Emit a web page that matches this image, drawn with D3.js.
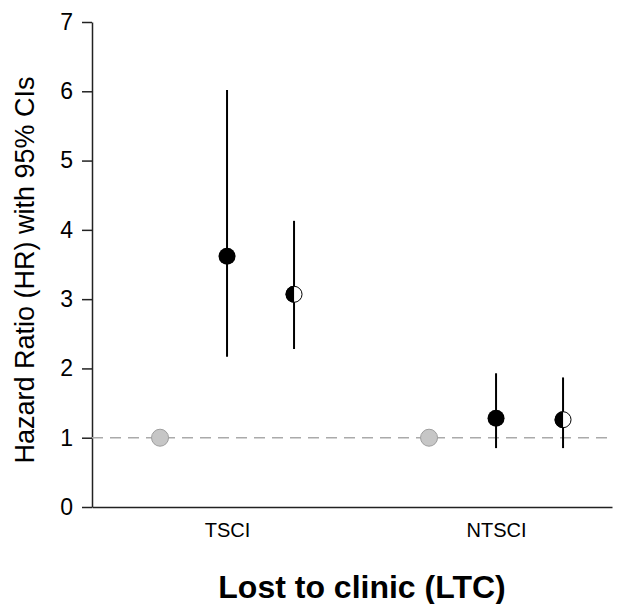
<!DOCTYPE html>
<html>
<head>
<meta charset="utf-8">
<script src="https://cdn.jsdelivr.net/npm/d3@7"></script>
<style>
  body { margin: 0; background: #fff; }
  text { font-family: "Liberation Sans", Arial, sans-serif; fill: #000; }
</style>
</head>
<body>
<script>
const chartWidth = 625;
const chartHeight = 604;

const margin = { top: 22, right: 13, bottom: 97, left: 92 };
const plotWidth = chartWidth - margin.left - margin.right;
const plotHeight = chartHeight - margin.top - margin.bottom;

// data
const groups = ['TSCI', 'NTSCI'];
const seriesKeys = ['reference', 'model1', 'model2'];
const hrValues = {
  reference: [1.00, 1.00],
  model1: [3.62, 1.28],
  model2: [3.07, 1.26]
};
const ciLower = {
  reference: [null, null],
  model1: [2.17, 0.85],
  model2: [2.28, 0.85]
};
const ciUpper = {
  reference: [null, null],
  model1: [6.02, 1.93],
  model2: [4.13, 1.87]
};
const yTicks = [0, 1, 2, 3, 4, 5, 6, 7];
const refLine = 1;

const svg = d3.select('body').append('svg')
  .attr('width', chartWidth)
  .attr('height', chartHeight);

const container = svg.append('g')
  .attr('transform', `translate(${margin.left},${margin.top})`);

const xGroup = d3.scalePoint()
  .domain(groups)
  .range([0, plotWidth])
  .padding(0.4665)
  .align(0.538);

const xSeries = d3.scalePoint()
  .domain(seriesKeys)
  .range([-67, 67]);

const yScale = d3.scaleLinear()
  .domain([0, 7])
  .range([plotHeight, 0]);

// y axis
const yAxis = d3.axisLeft(yScale)
  .tickValues(yTicks)
  .tickFormat(d3.format('d'))
  .tickSize(10)
  .tickPadding(9)
  .tickSizeOuter(0);

container.append('g')
  .attr('class', 'y axis')
  .call(yAxis)
  .attr('font-size', 23)
  .attr('font-family', '"Liberation Sans", Arial, sans-serif')
  .call(g => g.select('.domain').attr('stroke', '#222').attr('stroke-width', 1.5))
  .call(g => g.selectAll('.tick line').attr('stroke', '#222').attr('stroke-width', 1.5));

// x axis (no ticks)
const xAxis = d3.axisBottom(xGroup)
  .tickSize(0)
  .tickPadding(16)
  .tickSizeOuter(0);

container.append('g')
  .attr('class', 'x axis')
  .attr('transform', `translate(0,${plotHeight})`)
  .call(xAxis)
  .attr('font-size', 20)
  .attr('font-family', '"Liberation Sans", Arial, sans-serif')
  .call(g => g.select('.domain').attr('stroke', '#222').attr('stroke-width', 1.5));

// reference line at HR = 1
container.append('line')
  .attr('x1', 0)
  .attr('x2', plotWidth)
  .attr('y1', yScale(refLine))
  .attr('y2', yScale(refLine))
  .attr('stroke', '#aaa')
  .attr('stroke-width', 1.5)
  .attr('stroke-dasharray', '11,7');

// points
const points = [];
groups.forEach((grp, gi) => {
  seriesKeys.forEach(key => {
    points.push({
      group: grp,
      key: key,
      hr: hrValues[key][gi],
      lo: ciLower[key][gi],
      hi: ciUpper[key][gi]
    });
  });
});

const px = d => xGroup(d.group) + xSeries(d.key);

container.append('g').selectAll('line')
  .data(points.filter(d => d.lo != null))
  .enter().append('line')
    .attr('x1', px)
    .attr('x2', px)
    .attr('y1', d => yScale(d.lo))
    .attr('y2', d => yScale(d.hi))
    .attr('stroke', '#000')
    .attr('stroke-width', 2);

const r = 8.5;
const marks = container.append('g').selectAll('g')
  .data(points)
  .enter().append('g')
    .attr('transform', d => `translate(${px(d)},${yScale(d.hr)})`);

marks.filter(d => d.key === 'reference').append('circle')
  .attr('r', r)
  .attr('fill', '#c6c6c6')
  .attr('stroke', '#9e9e9e')
  .attr('stroke-width', 1);

marks.filter(d => d.key === 'model1').append('circle')
  .attr('r', r)
  .attr('fill', '#000');

const half = marks.filter(d => d.key === 'model2');
half.append('circle')
  .attr('r', r - 0.5)
  .attr('fill', '#fff')
  .attr('stroke', '#000')
  .attr('stroke-width', 1);
half.append('path')
  .attr('d', `M0,${-r} A${r},${r} 0 0 0 0,${r} Z`)
  .attr('fill', '#000');

// axis titles
svg.append('text')
  .attr('transform', 'translate(34,270) rotate(-90)')
  .attr('text-anchor', 'middle')
  .attr('font-size', 27)
  .text('Hazard Ratio (HR) with 95% CIs');

svg.append('text')
  .attr('x', 362)
  .attr('y', 598)
  .attr('text-anchor', 'middle')
  .attr('font-size', 32)
  .attr('font-weight', 'bold')
  .text('Lost to clinic (LTC)');
</script>
</body>
</html>
